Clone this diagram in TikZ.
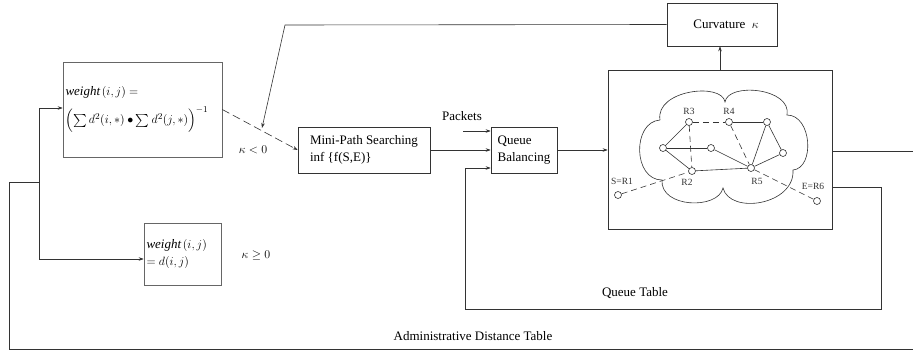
\documentclass[tikz,border=0pt]{standalone}
\usepackage{fontspec}
\setmainfont{Liberation Serif}
\usepackage{amsmath}
\usepackage{amssymb}
\usepackage{xcolor}
\usetikzlibrary{arrows.meta}

\begin{document}
\begin{tikzpicture}[x=1pt, y=-1pt, line width=0.6pt, draw=black!80,
  >={Stealth[length=5pt,width=3.5pt]},
  box/.style={draw=black!80, inner sep=2pt, font=\fontsize{13}{17}\selectfont},
  wbox/.style={box, draw=black!60, align=left},
  lab/.style={font=\fontsize{13}{17}\selectfont},
  router/.style={draw, circle, fill=white, inner sep=0pt, minimum size=7pt},
  rlabel/.style={font=\fontsize{9.5}{10}\selectfont, inner sep=1pt, text=black!80},
  dashlink/.style={dash pattern=on 6pt off 4pt}]

\useasboundingbox (0,0) rectangle (913,351);

% Define the weight boxes
\node[wbox, minimum width=159pt, minimum height=95pt, text width=154pt] (w1) at (142.5,109.5)
  {\textit{weight}\kern1.5pt$(i,j) =$\\[7pt] $\Bigl(\sum d^2(i,*)\bullet\sum d^2(j,*)\Bigr)^{-1}$};
\node[wbox, minimum width=77pt, minimum height=62pt, text width=72pt] (w2) at (182.5,254)
  {\textit{weight}\kern1.5pt$(i,j)$\\ $=d(i,j)$};

% Define the processing boxes
\node[box, minimum width=132pt, minimum height=46pt, align=left] (mini) at (364,150)
  {Mini-Path Searching\\inf \{f(S,E)\}};
\node[box, minimum width=66pt, minimum height=46pt, align=left] (queue) at (524,150)
  {Queue\\Balancing};
\node[box, minimum width=110pt, minimum height=43pt] (curv) at (722,24.5)
  {\hspace{8pt}Curvature~~$\kappa$};
\node[box, minimum width=224pt, minimum height=159pt] (net) at (720,149.5) {};

% Define the cloud inside the box
\draw (660,120) .. controls (655,90) and (722,82) .. (725,102)
  .. controls (728,82) and (792,88) .. (787,115)
  .. controls (812,115) and (815,168) .. (793,170)
  .. controls (795,205) and (730,215) .. (723,188)
  .. controls (718,210) and (660,208) .. (662,180)
  .. controls (633,180) and (632,122) .. (660,120);

% Define the routers
\node[router, label={[rlabel, xshift=4pt, label distance=5pt]above:S=R1}] (r1) at (618,195) {};
\node[router, label={[rlabel, xshift=-5pt, label distance=3pt]below:R2}] (r2) at (692,171) {};
\node[router, label={[rlabel, label distance=2pt]above:R3}] (r3) at (689,122) {};
\node[router, label={[rlabel, label distance=2pt]above:R4}] (r4) at (729,122) {};
\node[router, label={[rlabel, xshift=6pt, label distance=5pt]below:R5}] (r5) at (751,168) {};
\node[router, label={[rlabel, xshift=-4pt, label distance=6pt]above:E=R6}] (r6) at (817,201) {};
\node[router] (ra) at (767,122) {};
\node[router] (rb) at (663,148) {};
\node[router] (rc) at (711,148) {};
\node[router] (rd) at (783,153) {};

% Connect the routers
\draw (r4) -- (ra);
\draw (r3) -- (rb);
\draw (rb) -- (rc);
\draw (rb) -- (r2);
\draw (rc) -- (r5);
\draw (r2) -- (r5);
\draw (ra) -- (r5);
\draw (ra) -- (rd);
\draw (rd) -- (r5);
\draw[dashlink] (r3) -- (r4);
\draw[dashlink] (r3) -- (r2);
\draw[dashlink] (r4) -- (r5);
\draw[dashlink] (r5) -- (r6);
\draw[dashlink] (r1) -- (r2);

% Curvature feedback
\coordinate (ktop) at (285,25);
\coordinate (ktip) at (262,128);
\draw[->] (curv.west) -- (ktop) -- (ktip);
\draw[->] (net.north) -- (net.north |- curv.south);

% Weight to path searching
\draw[->, dash pattern=on 8pt off 4pt] (w1.east) -- (mini.west);
\node[lab] (kneg) at (253,150) {$\kappa<0$};
\node[lab] (kpos) at (256,255) {$\kappa\geq0$};

% Packets and queue
\coordinate (pk) at (463,131);
\node[lab] (pkt) at (462,116) {Packets};
\draw[->] (pk) -- (pk -| queue.west);
\draw[->] (mini.east) -- (queue.west);
\draw[->] (queue.east) -- (queue.east -| net.west);
\coordinate (out) at (913,151);
\draw (net.east |- out) -- (out);

% Queue table loop
\coordinate (qr) at (881,187);
\coordinate (qb) at (881,309);
\coordinate (ql) at (465,309);
\coordinate (qin) at (465,168);
\draw[->] (net.east |- qr) -- (qr) -- (qb) -- (ql) -- (qin) -- (qin -| queue.west);
\node[lab] (qtab) at (635,293) {Queue Table};

% Administrative distance loop
\coordinate (ar) at (913,349);
\coordinate (al) at (9,349);
\coordinate (atop) at (9,182);
\coordinate (aj) at (39,182);
\coordinate (a1) at (39,108);
\coordinate (a2) at (39,259);
\draw (ar) -- (al) -- (atop) -- (aj);
\draw[->] (a1) -- (a1 -| w1.west);
\draw[->] (a1) -- (a2) -- (a2 -| w2.west);
\node[lab] (adm) at (473,336) {Administrative Distance Table};

\end{tikzpicture}
\end{document}
